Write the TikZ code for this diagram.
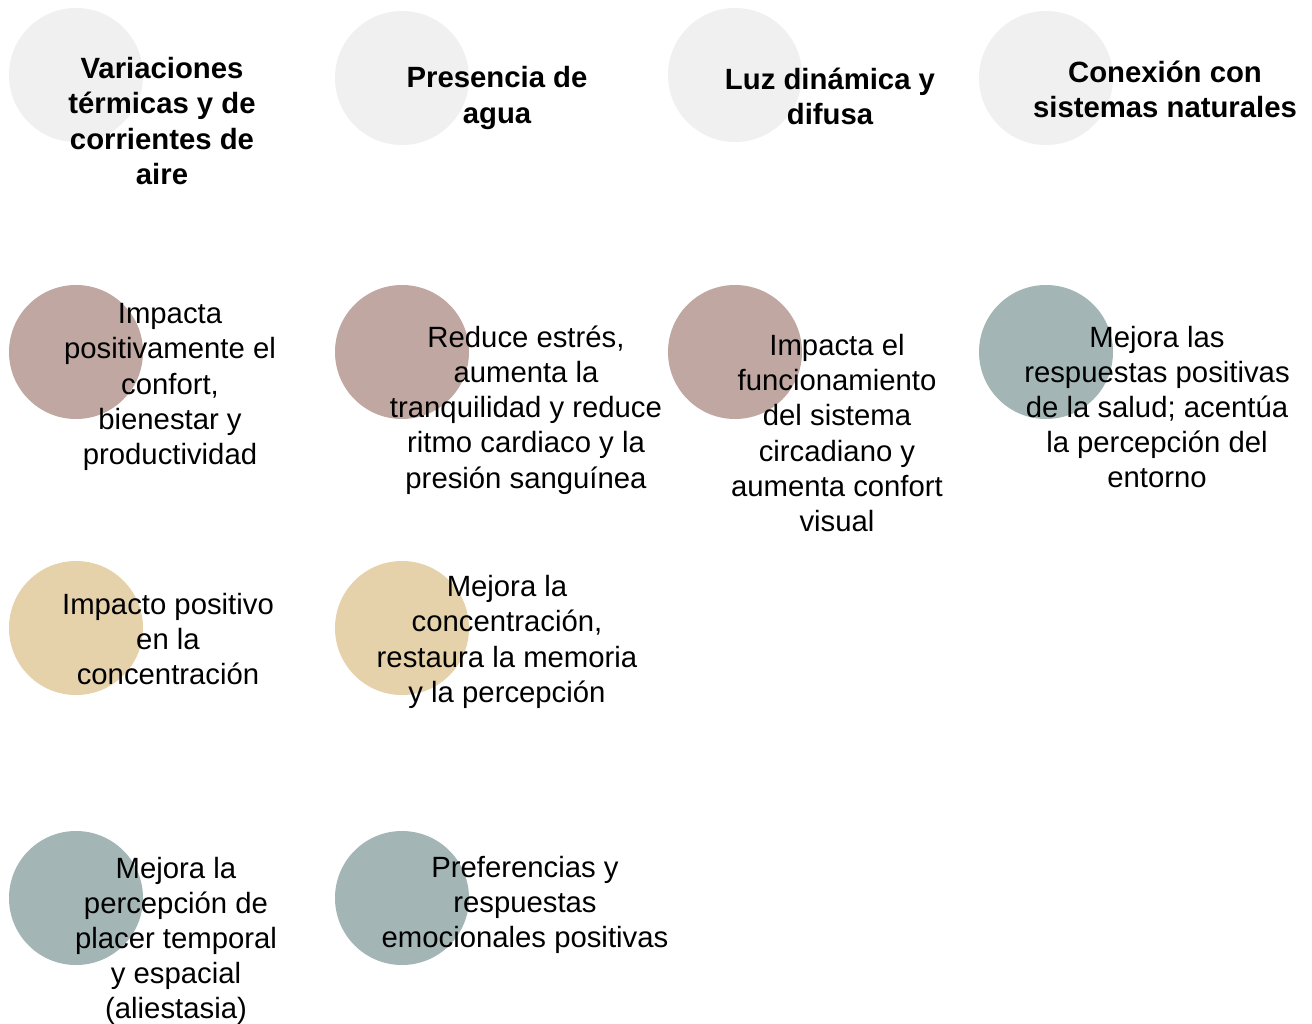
\documentclass[tikz,border=0pt]{standalone}
\usepackage{fontspec}
\setmainfont{Liberation Sans}
\definecolor{cgray}{RGB}{240,240,240}
\definecolor{cmauve}{RGB}{192,167,161}
\definecolor{cbeige}{RGB}{229,210,170}
\definecolor{cteal}{RGB}{163,181,181}
\tikzset{
  dot/.style={circle,minimum size=134pt,inner sep=0pt,draw=none},
  head/.style={align=center,font=\fontsize{29.3}{35.2}\selectfont\bfseries,inner sep=0pt},
  body/.style={align=center,font=\fontsize{29.3}{35.2}\selectfont,inner sep=0pt}
}
\begin{document}
\begin{tikzpicture}[x=1pt,y=-1pt]
\useasboundingbox[fill=white] (0,0) rectangle (1312,1023);
% header circles
\node[dot,fill=cgray] (c11) at (76,75) {};
\node[dot,fill=cgray] (c12) at (402,78) {};
\node[dot,fill=cgray] (c13) at (735,75) {};
\node[dot,fill=cgray] (c14) at (1046,78) {};
% row 2
\node[dot,fill=cmauve] (c21) at (76,352) {};
\node[dot,fill=cmauve] (c22) at (402,352) {};
\node[dot,fill=cmauve] (c23) at (735,352) {};
\node[dot,fill=cteal] (c24) at (1046,352) {};
% row 3
\node[dot,fill=cbeige] (c31) at (76,628) {};
\node[dot,fill=cbeige] (c32) at (402,628) {};
% row 4
\node[dot,fill=cteal] (c41) at (76,898) {};
\node[dot,fill=cteal] (c42) at (402,898) {};
% header texts
\node[head] (h1) at (162,121) {Variaciones\\térmicas y de\\corrientes de\\aire};
\node[head] (h2) at (497,98) {Presencia de\\agua};
\node[head] (h3) at (830,96) {Luz dinámica y\\difusa};
\node[head] (h4) at (1165,89) {Conexión con\\sistemas naturales};
% row 2 texts
\node[body] (t21) at (170,387) {Impacta\\positivamente el\\confort,\\bienestar y\\productividad};
\node[body] (t22) at (526,410) {Reduce estrés,\\aumenta la\\tranquilidad y reduce\\ritmo cardiaco y la\\presión sanguínea};
\node[body] (t23) at (837,433) {Impacta el\\funcionamiento\\del sistema\\circadiano y\\aumenta confort\\visual};
\node[body] (t24) at (1157,407) {Mejora las\\respuestas positivas\\de la salud; acentúa\\la percepción del\\entorno};
% row 3 texts
\node[body] (t31) at (168,639) {Impacto positivo\\en la\\concentración};
\node[body] (t32) at (507,642) {Mejora la\\concentración,\\restaura la memoria\\y la percepción};
% row 4 texts
\node[body] (t41) at (176,941) {Mejora la\\percepción de\\placer temporal\\y espacial\\(aliestasia)};
\node[body] (t42) at (525,905) {Preferencias y\\respuestas\\emocionales positivas};
\end{tikzpicture}
\end{document}
